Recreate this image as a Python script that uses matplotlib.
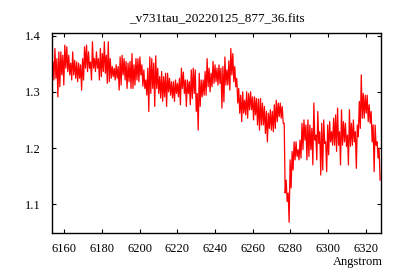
import numpy as np
import matplotlib
matplotlib.use('Agg')
import matplotlib.pyplot as plt

plt.rcParams['font.family'] = ['Liberation Serif', 'DejaVu Serif']

title = '_v731tau_20220125_877_36.fits'
xlabel = 'Angstrom'

# wavelength grid of the spectrum (uniform sampling)
wave_start = 6153.9
wave_end = 6327.6

# flux, left to right, in five pieces
flux_a = [1.353, 1.321, 1.377, 1.324, 1.359, 1.291, 1.371, 1.309, 1.371, 1.330,
          1.365, 1.312, 1.383, 1.342, 1.380, 1.336, 1.365, 1.330, 1.351, 1.321,
          1.371, 1.330, 1.356, 1.324, 1.353, 1.318, 1.351, 1.324, 1.348, 1.303,
          1.359, 1.321, 1.380, 1.342, 1.383, 1.336, 1.371, 1.342, 1.353, 1.321,
          1.389, 1.342, 1.359, 1.336, 1.371, 1.342, 1.359, 1.321, 1.377, 1.327,
          1.368, 1.336, 1.389, 1.333, 1.365, 1.315, 1.389, 1.318, 1.359, 1.324,
          1.345, 1.327, 1.342, 1.321]
flux_b = [1.348, 1.324, 1.345, 1.303, 1.362, 1.312, 1.365, 1.330, 1.359, 1.321,
          1.354, 1.306, 1.351, 1.318, 1.354, 1.306, 1.368, 1.306, 1.348, 1.312,
          1.359, 1.321, 1.359, 1.318, 1.362, 1.330, 1.348, 1.310, 1.339, 1.306,
          1.321, 1.294, 1.342, 1.265, 1.362, 1.297, 1.359, 1.306, 1.351, 1.274,
          1.364, 1.306, 1.342, 1.297, 1.327, 1.289, 1.336, 1.283, 1.327, 1.291,
          1.333, 1.274, 1.333, 1.300, 1.324, 1.294, 1.318, 1.289, 1.318, 1.283,
          1.321, 1.297, 1.315, 1.291, 1.324, 1.277, 1.342, 1.306]
flux_c = [1.335, 1.297, 1.321, 1.274, 1.321, 1.297, 1.318, 1.277, 1.339, 1.288,
          1.342, 1.297, 1.339, 1.265, 1.297, 1.232, 1.333, 1.274, 1.321, 1.291,
          1.321, 1.294, 1.336, 1.294, 1.359, 1.309, 1.342, 1.300, 1.333, 1.309,
          1.354, 1.315, 1.348, 1.318, 1.342, 1.312, 1.348, 1.315, 1.342, 1.271,
          1.345, 1.282, 1.362, 1.312, 1.339, 1.312, 1.355, 1.303, 1.377, 1.330,
          1.368, 1.318, 1.345, 1.309, 1.324, 1.280, 1.306, 1.262, 1.294, 1.247,
          1.300, 1.262, 1.285, 1.259, 1.300, 1.253, 1.297, 1.268]
flux_d = [1.300, 1.268, 1.291, 1.250, 1.291, 1.259, 1.288, 1.241, 1.287, 1.232,
          1.288, 1.241, 1.280, 1.241, 1.274, 1.226, 1.265, 1.211, 1.262, 1.235,
          1.268, 1.232, 1.265, 1.229, 1.277, 1.235, 1.285, 1.247, 1.280, 1.256,
          1.280, 1.253, 1.274, 1.244, 1.244, 1.120, 1.143, 1.105, 1.120, 1.068,
          1.179, 1.129, 1.194, 1.161, 1.211, 1.179, 1.211, 1.185, 1.197, 1.179,
          1.214, 1.182, 1.244, 1.197, 1.250, 1.214, 1.241, 1.179, 1.250, 1.185,
          1.241, 1.197, 1.235, 1.170, 1.280, 1.214, 1.223, 1.179]
flux_e = [1.265, 1.208, 1.229, 1.152, 1.244, 1.161, 1.250, 1.208, 1.211, 1.158,
          1.241, 1.188, 1.247, 1.211, 1.229, 1.205, 1.253, 1.205, 1.259, 1.194,
          1.271, 1.205, 1.229, 1.170, 1.268, 1.205, 1.247, 1.211, 1.244, 1.203,
          1.223, 1.170, 1.268, 1.203, 1.244, 1.205, 1.250, 1.211, 1.229, 1.164,
          1.241, 1.220, 1.283, 1.235, 1.330, 1.253, 1.297, 1.253, 1.294, 1.262,
          1.294, 1.247, 1.277, 1.244, 1.265, 1.211, 1.241, 1.158, 1.241, 1.205,
          1.211, 1.182, 1.200, 1.143]

flux = np.array(flux_a + flux_b + flux_c + flux_d + flux_e)
wave = np.linspace(wave_start, wave_end, len(flux))

xticks = [6160, 6180, 6200, 6220, 6240, 6260, 6280, 6300, 6320]
yticks = [1.1, 1.2, 1.3, 1.4]

fig = plt.figure(figsize=(4, 2.8), dpi=100)
ax = fig.add_axes([0.13, 0.168, 0.8225, 0.713])
ax.plot(wave, flux, color='#ff0000', lw=0.9)

ax.set_xlim(6153.4, 6328.1)
ax.set_ylim(1.049, 1.404)
ax.set_xticks(xticks)
ax.set_yticks(yticks)
ax.set_xticklabels([str(t) for t in xticks])
ax.set_yticklabels([f'{t:.1f}' for t in yticks])
ax.tick_params(direction='in', length=3, width=0.8, top=True, right=True,
               labelsize=9)
ax.tick_params(axis='x', pad=7)
ax.tick_params(axis='y', pad=8)
for s in ax.spines.values():
    s.set_linewidth(1.0)

ax.set_title(title, fontsize=9.5, pad=8)
fig.text(0.9575, 0.065, xlabel, ha='right', va='center', fontsize=9)

plt.savefig('out.png', dpi=100)
